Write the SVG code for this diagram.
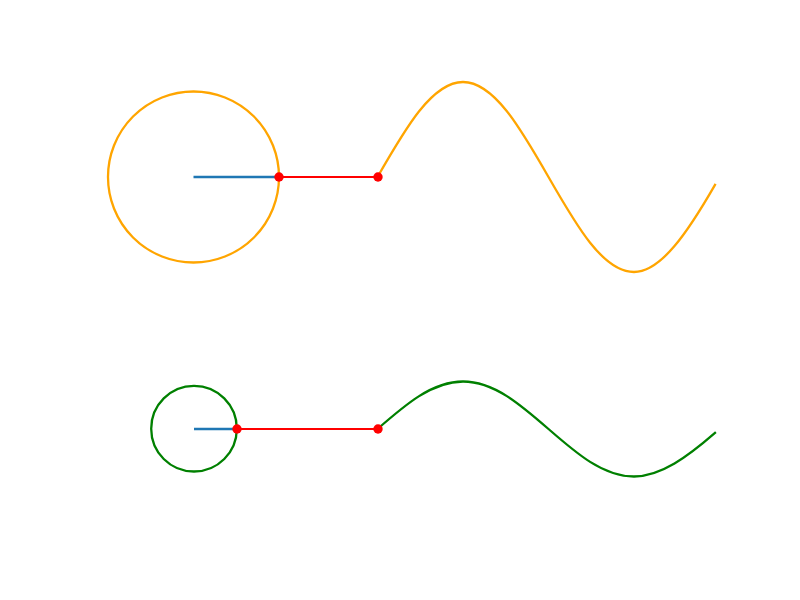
<svg xmlns="http://www.w3.org/2000/svg" width="800" height="600" viewBox="0 0 800 600">
<style>
.bg{fill:#ffffff}
.curve{fill:none;stroke-width:2.3;stroke-linecap:square}
.orange{stroke:#ffa500}
.green{stroke:#008000}
.radius{stroke:#1f77b4;stroke-width:2.3;fill:none}
.link{stroke:#ff0000;stroke-width:1.8;fill:none}
.dot{fill:#ff0000}
</style>
<rect class="bg" x="0" y="0" width="800" height="600"/>
<g id="top-circle">
<circle class="curve orange" cx="193.5" cy="177" r="85.5"/>
</g>
<g id="top-wave">
<path class="curve orange" d="M377.5,177 C405.38,128.33 432.06,82 463,82 C493.94,82 520.62,128.33 548.5,177 C576.38,225.67 603.06,272 634,272 C661,272 688,231.9 715,184.9"/>
</g>
<g id="bottom-circle">
<circle class="curve green" cx="194" cy="428.7" r="42.8"/>
</g>
<g id="bottom-wave">
<path class="curve green" d="M377.5,429 C405.38,404.67 432.06,381.5 463,381.5 C493.94,381.5 520.62,404.67 548.5,429 C576.38,453.33 603.06,476.5 634,476.5 C661,476.5 688,456.41 715,432.93"/>
</g>
<g id="connectors">
<line class="radius" x1="193.5" y1="177" x2="279" y2="177"/>
<line class="link" x1="279" y1="177" x2="378" y2="177"/>
<line class="radius" x1="194" y1="429" x2="237" y2="429"/>
<line class="link" x1="237" y1="429" x2="378" y2="429"/>
</g>
<g id="points">
<circle class="dot" cx="279" cy="177" r="4.7"/>
<circle class="dot" cx="378" cy="177" r="4.7"/>
<circle class="dot" cx="237" cy="429" r="4.7"/>
<circle class="dot" cx="378" cy="429" r="4.7"/>
</g>
</svg>
